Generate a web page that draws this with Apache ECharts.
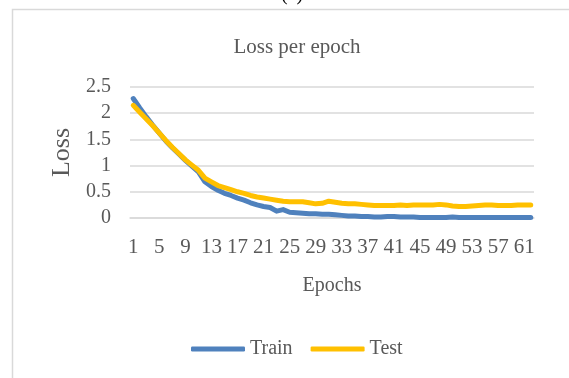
<!DOCTYPE html>
<html>
<head>
<meta charset="utf-8">
<script src="https://cdn.jsdelivr.net/npm/echarts@6/dist/echarts.min.js"></script>
<style>
  html, body { margin: 0; padding: 0; background: #fff; }
  #chart { width: 569px; height: 378px; }
</style>
</head>
<body>
<div id="chart"></div>
<script>
// Training / test loss per epoch
const epochs = Array.from({ length: 62 }, (_, i) => String(i + 1));

const trainLoss = [
  2.28, 2.10, 1.93, 1.77, 1.62, 1.47, 1.34, 1.22, 1.10, 0.99,
  0.88, 0.69, 0.60, 0.53, 0.47, 0.43, 0.38, 0.34, 0.29, 0.25,
  0.22, 0.20, 0.13, 0.16, 0.11, 0.10, 0.09, 0.08, 0.08, 0.07,
  0.07, 0.06, 0.05, 0.04, 0.04, 0.03, 0.03, 0.02, 0.02, 0.03,
  0.03, 0.02, 0.02, 0.02, 0.01, 0.01, 0.01, 0.01, 0.01, 0.02,
  0.01, 0.01, 0.01, 0.01, 0.01, 0.01, 0.01, 0.01, 0.01, 0.01,
  0.01, 0.01
];

const testLoss = [
  2.15, 2.02, 1.89, 1.76, 1.62, 1.48, 1.35, 1.23, 1.11, 1.01,
  0.91, 0.76, 0.69, 0.62, 0.58, 0.54, 0.50, 0.47, 0.43, 0.40,
  0.38, 0.36, 0.34, 0.32, 0.31, 0.31, 0.31, 0.29, 0.27, 0.28,
  0.32, 0.30, 0.28, 0.27, 0.27, 0.26, 0.25, 0.24, 0.24, 0.24,
  0.24, 0.25, 0.24, 0.25, 0.25, 0.25, 0.25, 0.26, 0.25, 0.23,
  0.22, 0.22, 0.23, 0.24, 0.25, 0.25, 0.24, 0.24, 0.24, 0.25,
  0.25, 0.25
];

const FONT = 'Liberation Serif';
const TEXT = '#595959';

const chart = echarts.init(document.getElementById('chart'), null, { renderer: 'canvas' });

chart.setOption({
  backgroundColor: '#ffffff',
  animation: false,
  textStyle: { fontFamily: FONT, color: TEXT },
  graphic: [
    {
      type: 'rect',
      shape: { x: 12.5, y: 9.5, width: 600, height: 420 },
      style: { fill: 'none', stroke: '#d9d9d9', lineWidth: 1.5 },
      z: -1
    },
    {
      type: 'text',
      x: 292, y: 5,
      style: {
        text: '(a)', font: '20px ' + FONT, fill: '#000',
        textAlign: 'center', textVerticalAlign: 'bottom'
      }
    }
  ],
  title: {
    text: 'Loss per epoch',
    left: 292, top: 32,
    textAlign: 'center',
    textStyle: { fontFamily: FONT, fontSize: 21, fontWeight: 'normal', color: TEXT }
  },
  legend: {
    left: 186, top: 334,
    itemWidth: 54, itemHeight: 5, itemGap: 18,
    icon: 'roundRect',
    data: ['Train', 'Test'],
    textStyle: { fontFamily: FONT, fontSize: 20, color: TEXT }
  },
  grid: { left: 130, right: 35, top: 87, bottom: 160, containLabel: false },
  xAxis: {
    type: 'category',
    data: epochs,
    boundaryGap: true,
    name: 'Epochs',
    nameLocation: 'middle',
    nameGap: 58,
    nameTextStyle: { fontFamily: FONT, fontSize: 20, color: TEXT },
    axisLine: { show: true, lineStyle: { color: '#d9d9d9', width: 1.5 } },
    axisTick: { show: false },
    axisLabel: { interval: 3, margin: 19, fontFamily: FONT, fontSize: 21, color: TEXT }
  },
  yAxis: {
    type: 'value',
    min: 0, max: 2.5, interval: 0.5,
    name: 'Loss',
    nameLocation: 'middle',
    nameGap: 54,
    nameRotate: 90,
    nameTextStyle: { fontFamily: FONT, fontSize: 26, color: TEXT },
    axisLine: { show: false },
    axisTick: { show: false },
    splitLine: { lineStyle: { color: '#d9d9d9', width: 1.5 } },
    axisLabel: { margin: 19, fontFamily: FONT, fontSize: 20, color: TEXT }
  },
  series: [
    {
      name: 'Train',
      type: 'line',
      data: trainLoss,
      showSymbol: false,
      symbol: 'none',
      itemStyle: { color: '#4f81bd' },
      lineStyle: { color: '#4f81bd', width: 5, cap: 'round', join: 'round' }
    },
    {
      name: 'Test',
      type: 'line',
      data: testLoss,
      showSymbol: false,
      symbol: 'none',
      itemStyle: { color: '#ffc000' },
      lineStyle: { color: '#ffc000', width: 5, cap: 'round', join: 'round' }
    }
  ]
});
</script>
</body>
</html>
